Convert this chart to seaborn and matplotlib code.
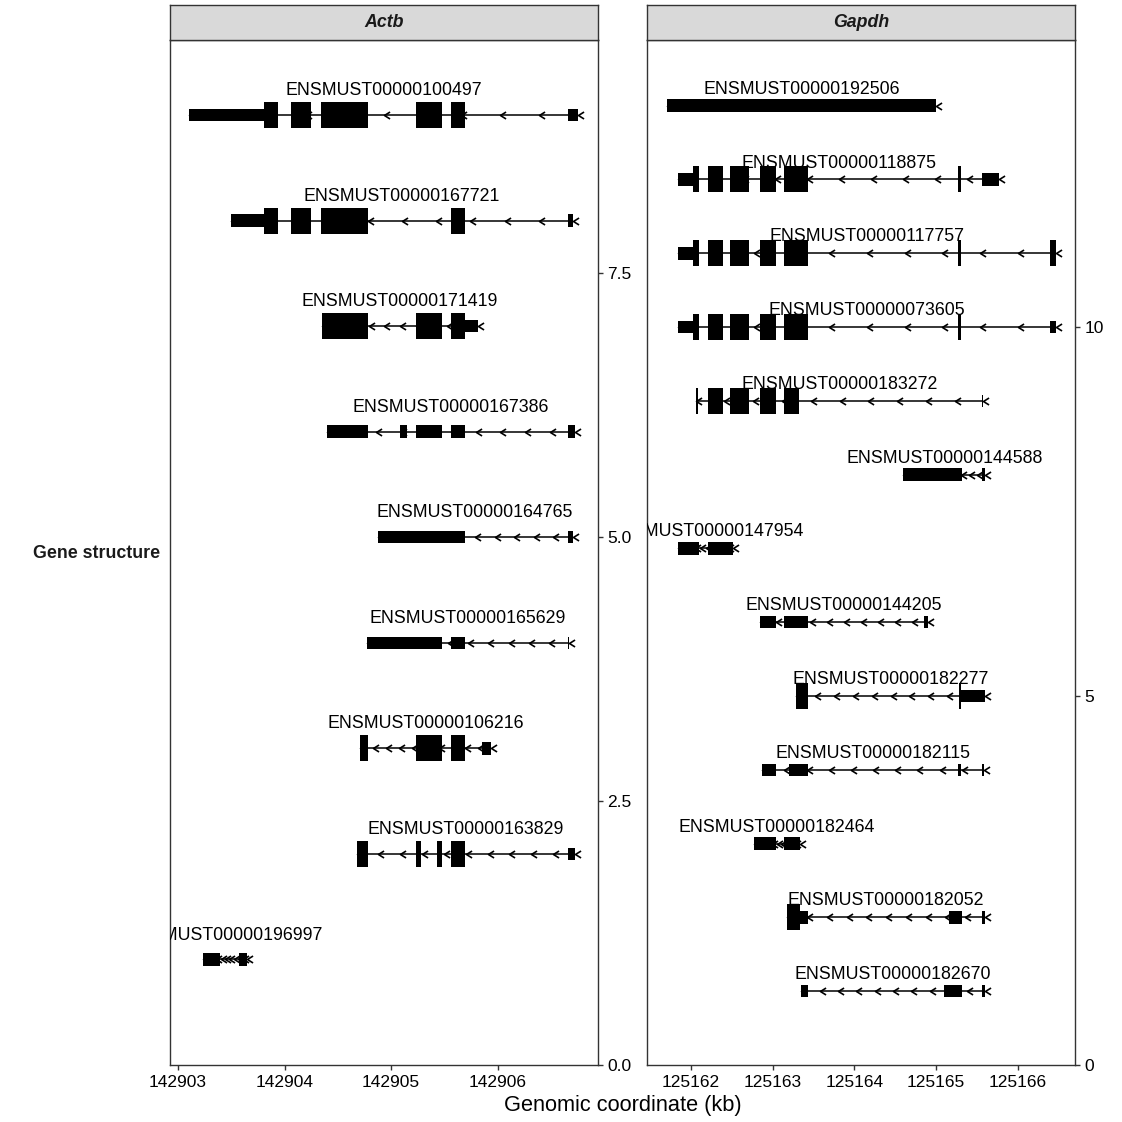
import numpy as np
import matplotlib
matplotlib.use("Agg")
import matplotlib.pyplot as plt
import seaborn as sns

# ---- Actb transcripts (positions in kb), top row first ----
actb_names = ["ENSMUST00000100497", "ENSMUST00000167721", "ENSMUST00000171419",
              "ENSMUST00000167386", "ENSMUST00000164765", "ENSMUST00000165629",
              "ENSMUST00000106216", "ENSMUST00000163829", "ENSMUST00000196997"]
actb_rows = [9, 8, 7, 6, 5, 4, 3, 2, 1]
actb_starts = [
    [142903.108, 142903.804, 142904.065, 142904.346, 142905.236, 142905.564, 142906.660],
    [142903.498, 142903.804, 142904.065, 142904.346, 142905.564, 142906.660],
    [142904.349, 142905.236, 142905.564, 142905.688],
    [142904.395, 142905.087, 142905.236, 142905.564, 142906.660],
    [142904.875, 142906.660],
    [142904.769, 142905.564, 142906.660],
    [142904.707, 142905.236, 142905.564, 142905.848, 142905.852],
    [142904.676, 142905.236, 142905.430, 142905.564, 142906.654],
    [142903.234, 142903.576],
]
actb_ends = [
    [142903.804, 142903.940, 142904.246, 142904.781, 142905.477, 142905.688, 142906.753],
    [142903.804, 142903.940, 142904.246, 142904.781, 142905.688, 142906.706],
    [142904.785, 142905.477, 142905.688, 142905.819],
    [142904.785, 142905.150, 142905.477, 142905.688, 142906.722],
    [142905.694, 142906.701],
    [142905.477, 142905.688, 142906.672],
    [142904.781, 142905.477, 142905.694, 142905.852, 142905.937],
    [142904.781, 142905.280, 142905.477, 142905.688, 142906.722],
    [142903.398, 142903.648],
]
# 1 = coding part (tall box), 0 = UTR / non-coding (thin box)
actb_cds = [
    [0, 1, 1, 1, 1, 1, 0],
    [0, 1, 1, 1, 1, 0],
    [1, 1, 1, 0],
    [0, 0, 0, 0, 0],
    [0, 0],
    [0, 0, 0],
    [1, 1, 1, 1, 0],
    [1, 1, 1, 1, 0],
    [0, 0],
]

# ---- Gapdh transcripts ----
gapdh_names = ["ENSMUST00000192506", "ENSMUST00000118875", "ENSMUST00000117757",
               "ENSMUST00000073605", "ENSMUST00000183272", "ENSMUST00000144588",
               "ENSMUST00000147954", "ENSMUST00000144205", "ENSMUST00000182277",
               "ENSMUST00000182115", "ENSMUST00000182464", "ENSMUST00000182052",
               "ENSMUST00000182670"]
gapdh_rows = [13, 12, 11, 10, 9, 8, 7, 6, 5, 4, 3, 2, 1]
gapdh_starts = [
    [125161.707],
    [125161.850, 125162.033, 125162.210, 125162.476, 125162.841, 125163.138, 125165.272, 125165.557],
    [125161.850, 125162.033, 125162.210, 125162.476, 125162.841, 125163.138, 125165.272, 125166.390],
    [125161.850, 125162.033, 125162.210, 125162.476, 125162.841, 125163.138, 125165.272, 125166.390],
    [125162.061, 125162.210, 125162.476, 125162.841, 125163.138, 125165.290, 125165.557],
    [125164.600, 125165.557],
    [125161.850, 125162.210],
    [125162.841, 125163.138, 125164.854],
    [125163.289, 125165.280, 125165.300],
    [125162.874, 125163.200, 125165.272, 125165.557],
    [125162.772, 125163.138],
    [125163.179, 125163.341, 125165.159, 125165.557],
    [125163.350, 125165.100, 125165.557],
]
gapdh_ends = [
    [125165.000],
    [125162.033, 125162.100, 125162.394, 125162.711, 125163.037, 125163.435, 125165.300, 125165.772],
    [125162.033, 125162.100, 125162.394, 125162.711, 125163.037, 125163.435, 125165.300, 125166.460],
    [125162.033, 125162.100, 125162.394, 125162.711, 125163.037, 125163.435, 125165.300, 125166.460],
    [125162.090, 125162.394, 125162.711, 125163.037, 125163.321, 125165.296, 125165.577],
    [125165.313, 125165.598],
    [125162.100, 125162.520],
    [125163.037, 125163.435, 125164.906],
    [125163.431, 125165.300, 125165.598],
    [125163.037, 125163.435, 125165.305, 125165.585],
    [125163.037, 125163.333],
    [125163.341, 125163.431, 125165.313, 125165.598],
    [125163.435, 125165.313, 125165.598],
]
gapdh_cds = [
    [0],
    [0, 1, 1, 1, 1, 1, 1, 0],
    [0, 1, 1, 1, 1, 1, 1, 1],
    [0, 1, 1, 1, 1, 1, 1, 0],
    [1, 1, 1, 1, 1, 1, 0],
    [0, 0],
    [0, 0],
    [0, 0, 0],
    [1, 1, 0],
    [0, 0, 0, 0],
    [0, 0],
    [1, 0, 0, 0],
    [0, 0, 0],
]

actb_yticks = [0, 2.5, 5.0, 7.5]
actb_yticklabels = ["0.0", "2.5", "5.0", "7.5"]
gapdh_yticks = [0, 5, 10]
gapdh_yticklabels = ["0", "5", "10"]
actb_xticks = [142903, 142904, 142905, 142906]
gapdh_xticks = [125162, 125163, 125164, 125165, 125166]

sns.set_theme(style="ticks")
plt.rcParams['font.family'] = ['Liberation Sans', 'DejaVu Sans']

W = H = 1122.0
fig = plt.figure(figsize=(11.22, 11.22), dpi=100)


def px_axes(x0, y0, x1, y1):
    return fig.add_axes([x0 / W, 1 - y1 / H, (x1 - x0) / W, (y1 - y0) / H])


# open "<" chevron, tip at the data point
chevron = [(1.6, 1.0), (0.0, 0.0), (1.6, -1.0)]
panel_top, panel_bottom = 40.0, 1065.0
tall_px, thin_px = 26.0, 12.5

panels = [
    ("Actb", actb_names, actb_rows, actb_starts, actb_ends, actb_cds, 9.71,
     actb_yticks, actb_yticklabels, actb_xticks, 170.0, 597.5),
    ("Gapdh", gapdh_names, gapdh_rows, gapdh_starts, gapdh_ends, gapdh_cds, 13.89,
     gapdh_yticks, gapdh_yticklabels, gapdh_xticks, 647.3, 1075.0),
]

for gene, names, rows, starts, ends, cds, ytop, yt, ytl, xt, x0, x1 in panels:
    ax = px_axes(x0, panel_top, x1, panel_bottom)
    unit_px = (panel_bottom - panel_top) / ytop
    h_tall = tall_px / unit_px
    h_thin = thin_px / unit_px

    for name, row, s, e, c in zip(names, rows, starts, ends, cds):
        lo, hi = min(s), max(e)
        # intron backbone
        ax.plot([lo, hi], [row, row], color="black", lw=1.1, zorder=1, solid_capstyle="butt")
        # strand chevrons
        pos = lo + np.arange(11) * (hi - lo) / 10
        ax.plot(pos, [row] * len(pos), linestyle="none", marker=chevron, ms=8,
                mfc="none", mec="black", mew=1.2, zorder=2)
        # exons
        s = np.array(s)
        e = np.array(e)
        c = np.array(c, dtype=bool)
        ax.barh([row] * c.sum(), (e - s)[c], left=s[c], height=h_tall,
                color="black", linewidth=0, zorder=3)
        ax.barh([row] * (~c).sum(), (e - s)[~c], left=s[~c], height=h_thin,
                color="black", linewidth=0, zorder=3)
        ax.text((lo + hi) / 2, row + 0.25, name, ha="center", va="center_baseline",
                fontsize=12.8, color="black", zorder=4, clip_on=True)

    all_lo = min(min(s) for s in starts)
    all_hi = max(max(e) for e in ends)
    pad = 0.05 * (all_hi - all_lo)
    ax.set_xlim(all_lo - pad, all_hi + pad)
    ax.set_ylim(0, ytop)

    ax.yaxis.tick_right()
    ax.set_yticks(yt)
    ax.set_yticklabels(ytl)
    ax.set_xticks(xt)
    ax.set_xticklabels([str(v) for v in xt])
    ax.tick_params(axis="both", length=3.5, width=1.0, color="#333333",
                   labelsize=12.5, labelcolor="black", pad=3.5, direction="out")
    for sp in ax.spines.values():
        sp.set_visible(True)
        sp.set_color("#333333")
        sp.set_linewidth(1.0)
    ax.set_facecolor("white")

    # facet strip
    st = px_axes(x0, 4.5, x1, panel_top)
    st.set_facecolor("#d9d9d9")
    st.set_xticks([])
    st.set_yticks([])
    for sp in st.spines.values():
        sp.set_visible(True)
        sp.set_color("#333333")
        sp.set_linewidth(1.0)
    st.text(0.5, 0.5, gene, ha="center", va="center", fontsize=12.8,
            fontweight="bold", fontstyle="italic", color="#1a1a1a",
            transform=st.transAxes)

fig.text(160 / W, 1 - 553 / H, "Gene structure", ha="right", va="center",
         fontsize=12.8, fontweight="bold", color="#1a1a1a")
fig.text(622.5 / W, 1 - 1106 / H, "Genomic coordinate (kb)", ha="center", va="center",
         fontsize=15.7, color="black")

fig.savefig("out.png", dpi=100)
